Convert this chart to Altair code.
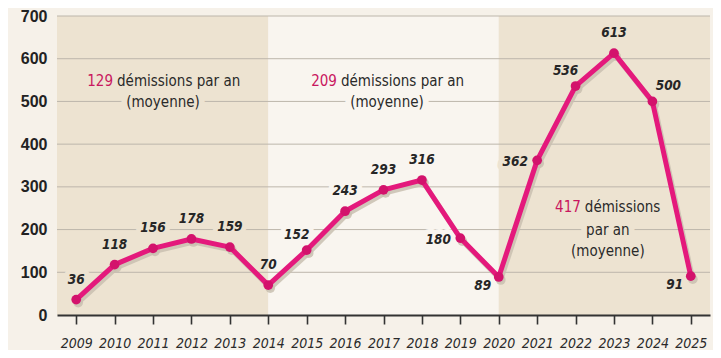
import altair as alt
import pandas as pd

# ---------------- data ----------------
years = list(range(2009, 2026))
resignations = [36, 118, 156, 178, 159, 70, 152, 243, 293, 316, 180, 89, 362, 536, 613, 500, 91]
label_side = ["above", "above", "above", "above", "above", "above", "upleft", "above",
              "above", "above", "left", "downleft", "left", "upleft", "above", "upright", "downleft"]

period_from = [2008.5, 2014, 2020]
period_to = [2014, 2020, 2025.5]
period_shade = ["shaded", "plain", "shaded"]
period_average = ["129", "209", "417"]

y_ticks = [0, 100, 200, 300, 400, 500, 600, 700]
grid_values = [100, 200, 300, 400, 500, 600, 700]

# annotation anchors (data units)
ann_x = [2011.26, 2017.09, 2022.84]

# ---------------- style ----------------
BG = "#f6f1e9"
SHADE = "#ede3d1"
PLAIN = "#f9f5ef"
PINK = "#e4197c"
DOT = "#d3126c"
NUM_PINK = "#c9175f"
INK = "#2a2a2a"
FONT = "DejaVu Sans Condensed, DejaVu Sans, sans-serif"

xscale = alt.Scale(domain=[2008.5, 2025.5], nice=False, zero=False)
yscale = alt.Scale(domain=[0, 700], nice=False)
shade_scale = alt.Scale(domain=["shaded", "plain"], range=[SHADE, PLAIN])

x_axis = alt.Axis(values=years, format="d", title=None, grid=False, zindex=1,
                  domainColor="#333333", domainWidth=2, tickColor="#333333", tickWidth=1.6,
                  tickSize=9, labelFont=FONT, labelFontStyle="italic", labelFontSize=14,
                  labelColor=INK, labelPadding=12, labelOverlap=False, labelFlush=False)
y_axis = alt.Axis(values=y_ticks, title=None, grid=False, domain=False, ticks=False,
                  labelFont="Liberation Sans, Arial, sans-serif", labelFontWeight="bold",
                  labelFontSize=16, labelColor="#222222", labelPadding=10)

X = lambda f: alt.X(f, type="quantitative", scale=xscale, axis=x_axis)
Y = lambda f: alt.Y(f, type="quantitative", scale=yscale, axis=y_axis)

df = pd.DataFrame({"year": years, "value": resignations, "side": label_side})
df["shade"] = ["shaded" if (y < 2014 or y > 2020) else "plain" for y in years]
df["boundary"] = [y in (2014, 2020) for y in years]

bands_df = pd.DataFrame({"x0": period_from, "x1": period_to, "shade": period_shade})
grid_df = pd.DataFrame({"v": grid_values})

# ---------------- layers ----------------
bands = alt.Chart(bands_df).mark_rect().encode(
    x=X("x0"), x2="x1",
    y=alt.Y(datum=0, type="quantitative", scale=yscale, axis=y_axis),
    y2=alt.datum(700),
    fill=alt.Fill("shade:N", scale=shade_scale, legend=None),
)

grid = alt.Chart(grid_df).mark_rule(color="#bdb6ab", strokeWidth=1).encode(
    y=Y("v"),
    x=alt.value(0), x2=alt.value(653),
)

offsets = {
    "above": (0, -20),
    "upleft": (-10, -15),
    "left": (-22, 2),
    "downleft": (-16, 9),
    "upright": (16, -15),
}

LABEL_SIZE = 13.5


def value_labels(halo):
    layers = []
    for side, (dx, dy) in offsets.items():
        base = alt.Chart(df).transform_filter(alt.datum.side == side)
        if halo:
            base = base.transform_filter("!datum.boundary")
            mk = base.mark_text(font=FONT, fontSize=LABEL_SIZE, fontStyle="italic", fontWeight="bold",
                                dx=dx, dy=dy, baseline="middle", align="center", strokeWidth=10,
                                strokeJoin="round", fill=None)
            layers.append(mk.encode(x=X("year"), y=Y("value"), text="value:Q",
                                    stroke=alt.Stroke("shade:N", scale=shade_scale, legend=None)))
        else:
            mk = base.mark_text(font=FONT, fontSize=LABEL_SIZE, fontStyle="italic", fontWeight="bold",
                                dx=dx, dy=dy, baseline="middle", align="center", color="#262626")
            layers.append(mk.encode(x=X("year"), y=Y("value"), text="value:Q"))
    return layers


# annotations
line1_y = [548, 548, 252]
num_df = pd.DataFrame({"x": ann_x, "y": line1_y, "t": period_average, "k": [0, 1, 2]})
txt_df = pd.DataFrame([
    {"x": ann_x[0], "y": 548, "t": "démissions par an", "k": 0, "al": "left"},
    {"x": ann_x[1], "y": 548, "t": "démissions par an", "k": 1, "al": "left"},
    {"x": ann_x[2], "y": 252, "t": "démissions", "k": 2, "al": "left"},
    {"x": ann_x[0], "y": 499, "t": "(moyenne)", "k": 0, "al": "center"},
    {"x": ann_x[1], "y": 499, "t": "(moyenne)", "k": 1, "al": "center"},
    {"x": ann_x[2], "y": 199, "t": "par an", "k": 2, "al": "center"},
    {"x": ann_x[2], "y": 150, "t": "(moyenne)", "k": 2, "al": "center"},
])
txt_df["shade"] = [period_shade[k] for k in txt_df["k"]]
num_df["shade"] = [period_shade[k] for k in num_df["k"]]

num_dx = {0: -50, 1: -50, 2: -27}
txt_dx = {0: -46, 1: -46, 2: -23}
ANN_SIZE = 15


def annotations(halo):
    layers = []
    for k in range(3):
        common = dict(font=FONT, fontSize=ANN_SIZE, baseline="middle")
        if halo:
            common.update(strokeWidth=12, strokeJoin="round", fill=None)
        n = alt.Chart(num_df).transform_filter(alt.datum.k == k).mark_text(
            align="right", dx=num_dx[k], **common, **({} if halo else {"color": NUM_PINK}))
        t1 = alt.Chart(txt_df).transform_filter(
            (alt.datum.k == k) & (alt.datum.al == "left")).mark_text(
            align="left", dx=txt_dx[k], **common, **({} if halo else {"color": INK}))
        t2 = alt.Chart(txt_df).transform_filter(
            (alt.datum.k == k) & (alt.datum.al == "center")).mark_text(
            align="center", **common, **({} if halo else {"color": INK}))
        for m in (n, t1, t2):
            enc = dict(x=X("x"), y=Y("y"), text="t:N")
            if halo:
                enc["stroke"] = alt.Stroke("shade:N", scale=shade_scale, legend=None)
            layers.append(m.encode(**enc))
    return layers


shadow_line = alt.Chart(df).mark_line(color="#c9bfb0", strokeWidth=5, opacity=0.85,
                                      xOffset=2, yOffset=3, strokeJoin="round").encode(
    x=X("year"), y=Y("value"))
shadow_pts = alt.Chart(df).mark_circle(color="#c9bfb0", size=95, opacity=0.85,
                                       xOffset=2, yOffset=3).encode(x=X("year"), y=Y("value"))
line = alt.Chart(df).mark_line(color=PINK, strokeWidth=5, strokeJoin="round").encode(
    x=X("year"), y=Y("value"))
pts = alt.Chart(df).mark_circle(color=DOT, size=95, opacity=1).encode(
    x=X("year"), y=Y("value"))

chart = alt.layer(
    bands, grid,
    *annotations(True), *value_labels(True),
    shadow_line, shadow_pts, line, pts,
    *value_labels(False), *annotations(False),
).properties(
    width=653, height=299,
    background=BG,
    padding={"left": 49, "top": 8, "right": 3, "bottom": 35},
    autosize=alt.AutoSizeParams(type="none"),
).configure_view(stroke=None)

chart.save("out.html", embed_options={"renderer": "svg", "actions": False})
